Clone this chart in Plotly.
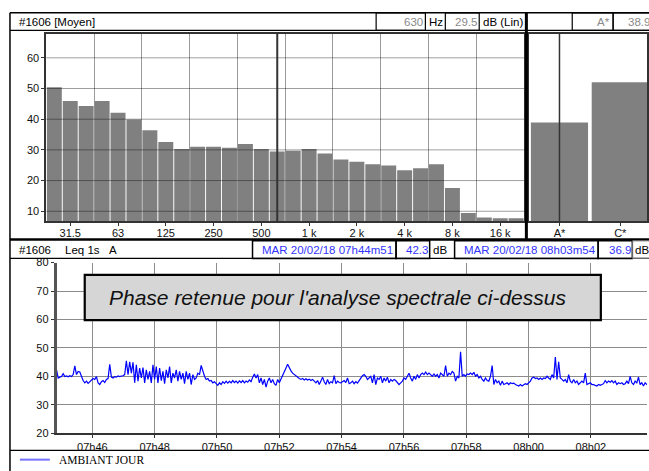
import plotly.graph_objects as go
import pandas as pd

W, H = 649, 471
ARIAL = "Arial, 'Liberation Sans', sans-serif"
SERIF = "'Times New Roman', 'Liberation Serif', serif"

# ---------------- data ----------------
bands = ["25", "31.5", "40", "50", "63", "80", "100", "125", "160", "200",
         "250", "315", "400", "500", "630", "800", "1 k", "1.25 k", "1.6 k", "2 k",
         "2.5 k", "3.15 k", "4 k", "5 k", "6.3 k", "8 k", "10 k", "12.5 k", "16 k", "20 k"]
band_levels = [50.4, 45.9, 44.3, 45.9, 42.1, 39.9, 36.4, 32.6, 30.3, 31.0,
               31.0, 30.7, 31.9, 30.3, 29.5, 29.7, 30.3, 28.8, 26.9, 26.1,
               25.3, 24.9, 23.4, 24.0, 25.3, 17.6, 9.4, 8.0, 7.7, 7.7]
labelled_bands = ["31.5", "63", "125", "250", "500", "1 k", "2 k", "4 k", "8 k", "16 k"]
spec_ticks = [10, 20, 30, 40, 50, 60]

global_labels = ["A*", "C*"]
global_levels = [38.9, 52.0]

cursor_band = "630"
cursor_level = "29.5"
cursor_global = "A*"
cursor_global_level = "38.9"

t_start = "2018-02-20 07:44:51"
t_end = "2018-02-20 08:03:54"
t_view_end = "2018-02-20 08:03:48"
start_label = "MAR 20/02/18 07h44m51"
end_label = "MAR 20/02/18 08h03m54"
start_level = "42.3"
end_level = "36.9"
series_name = "AMBIANT JOUR"

leq_values = [
    42.3, 39.4, 39.7, 39.9, 40.9, 39.9, 40.1, 39.8, 40.2, 39.9, 40.6, 43.7, 40.6, 41.7, 41.5, 39.7,
    38.5, 37.7, 38.3, 37.5, 38.1, 38.9, 39.2, 38.9, 39.9, 37.7, 37.1, 38.1, 38.5, 37.8, 38.9, 39.2,
    44.2, 39.7, 39.4, 39.9, 39.7, 40.1, 39.9, 40.1, 40.2, 40.6, 45.4, 40.6, 45.1, 41.1, 44.9, 37.7,
    44.0, 38.3, 42.9, 39.4, 43.1, 37.7, 42.3, 38.9, 41.7, 37.7, 44.0, 38.9, 43.4, 37.7, 42.9, 38.5,
    41.7, 37.4, 42.3, 39.4, 43.4, 37.7, 41.1, 39.4, 42.3, 38.3, 41.7, 38.9, 41.1, 37.4, 41.7, 38.9,
    41.1, 37.1, 40.6, 38.9, 39.4, 41.1, 40.6, 43.8, 41.7, 40.0, 38.9, 39.2, 38.3, 38.5, 37.7, 38.1,
    37.4, 36.8, 37.7, 37.1, 38.1, 37.5, 38.3, 37.6, 38.2, 37.7, 38.5, 37.8, 38.3, 37.6, 38.4, 37.8,
    38.5, 37.7, 38.3, 37.9, 38.7, 38.1, 39.7, 40.8, 39.4, 40.6, 37.7, 39.4, 37.1, 38.9, 36.2, 38.3,
    39.4, 37.7, 38.9, 37.4, 36.8, 38.9, 37.7, 38.9, 40.0, 41.7, 42.9, 44.2, 42.9, 41.9, 41.1, 40.6,
    40.0, 39.4, 39.2, 38.9, 39.2, 38.7, 39.1, 38.7, 39.0, 38.5, 38.9, 38.3, 37.7, 38.5, 37.1, 38.3,
    39.7, 38.1, 37.1, 38.9, 37.4, 38.1, 37.7, 40.2, 37.4, 38.3, 37.8, 37.7, 38.2, 38.5, 37.8, 39.4,
    37.4,
    37.7, 38.3, 37.4, 38.1, 37.6, 38.5, 39.4, 40.2, 40.6, 40.0, 38.9, 39.4, 40.0, 37.7, 40.6, 37.1,
    39.4, 38.9, 40.0, 37.7, 39.4, 38.3, 39.7, 37.7, 38.9, 38.3, 38.9, 38.5, 37.7, 37.1, 37.7, 38.3,
    39.4, 38.9, 40.0, 41.1, 39.4, 38.3, 40.0, 38.9, 40.6, 39.4, 40.6, 41.1, 40.6, 41.5, 40.6, 41.1,
    40.6, 40.0, 40.8, 40.0, 40.6, 39.4, 41.1, 40.6, 40.0, 43.8, 40.0, 41.1, 40.6, 41.7, 41.1, 38.3,
    40.0, 39.4, 48.6, 40.0, 40.6, 40.0, 40.8, 40.6, 41.1, 40.6, 41.4, 40.0, 40.6, 39.4, 40.0, 38.9,
    38.3, 39.4, 38.5, 38.3, 40.0, 43.8, 37.1, 38.9, 37.7, 38.3, 36.8, 38.3, 37.1, 37.4, 37.7, 37.1,
    37.7, 37.4, 37.6, 37.1, 36.9, 36.6, 37.1, 36.6, 37.0, 37.4, 37.1, 37.7, 38.3, 39.4, 39.7, 39.2,
    39.4, 38.9, 39.4, 38.9, 39.4, 39.2, 40.0, 39.4, 38.9, 40.6, 39.4, 46.8, 38.9, 45.1, 39.4, 38.9,
    38.3, 38.9, 37.7, 40.6, 38.3, 37.7, 38.9, 37.7, 38.3, 37.1, 37.7, 38.3, 37.7, 41.1, 37.1, 37.4,
    37.7, 37.1, 37.1, 36.8, 36.6, 37.1, 36.8, 37.1, 37.4, 38.5, 37.7, 38.3, 37.9, 38.5, 37.7, 38.3,
    37.1, 37.7, 37.4, 37.7, 37.1, 37.4, 38.3, 37.4, 40.0, 37.7, 37.1, 38.3, 37.7, 39.7, 37.1, 37.7,
    36.6, 37.7, 37.1,
    37.0, 36.9,
]

# ---------------- helpers (pixel -> paper) ----------------
def PX(x):
    return x / W


def PY(y):
    return 1 - y / H


shapes = []
annotations = []


def line(x0, y0, x1, y1, color="#000", width=1.0, layer="above"):
    shapes.append(dict(type="line", xref="paper", yref="paper",
                       x0=PX(x0), y0=PY(y0), x1=PX(x1), y1=PY(y1),
                       line=dict(color=color, width=width), layer=layer))


def rect(x0, y0, x1, y1, color="#000", width=1.0, fill="rgba(0,0,0,0)", layer="above"):
    shapes.append(dict(type="rect", xref="paper", yref="paper",
                       x0=PX(x0), y0=PY(y0), x1=PX(x1), y1=PY(y1),
                       line=dict(color=color, width=width), fillcolor=fill, layer=layer))


def text(s, x, y, anchor="left", color="#000", size=11.5, family=ARIAL, italic=False):
    annotations.append(dict(text=s, xref="paper", yref="paper", x=PX(x), y=PY(y),
                            xanchor=anchor, yanchor="middle", showarrow=False,
                            font=dict(color=color, size=size, family=family,
                                      style="italic" if italic else "normal")))


# ---------------- traces ----------------
fig = go.Figure()
band_pos = list(range(len(bands)))
fig.add_trace(go.Bar(x=band_pos, y=band_levels, marker=dict(color="#808080", line=dict(width=0)),
                     xaxis="x", yaxis="y", showlegend=False))
fig.add_trace(go.Bar(x=list(range(len(global_labels))), y=global_levels,
                     marker=dict(color="#808080", line=dict(width=0)),
                     xaxis="x2", yaxis="y2", showlegend=False))
times = pd.date_range(t_start, t_end, periods=len(leq_values))
fig.add_trace(go.Scatter(x=times, y=leq_values, mode="lines", name=series_name,
                         line=dict(color="#0000ff", width=1.2),
                         xaxis="x3", yaxis="y3", showlegend=False))

# ---------------- axes ----------------
spec_dom_y = [PY(220.7), PY(28.3)]
spec_range = [6.8, 67.9]
tickfont = dict(family=ARIAL, size=11, color="#111")

fig.update_layout(
    xaxis=dict(domain=[PX(46.5), PX(525.7)], range=[-0.5, len(bands) - 0.5],
               tickvals=[bands.index(b) for b in labelled_bands], ticktext=labelled_bands,
               ticks="outside", ticklen=3, tickcolor="#333", tickfont=tickfont,
               ticklabelstandoff=-2,
               showgrid=False, zeroline=False, showline=True, linecolor="#333",
               linewidth=1.5, mirror=True, fixedrange=True, anchor="y",
               minor=dict(tickmode="linear", tick0=2.5, dtick=3, showgrid=True,
                          gridcolor="#9a9a9a", gridwidth=1, ticks="")),
    yaxis=dict(domain=spec_dom_y, range=spec_range, tickvals=spec_ticks,
               ticks="outside", ticklen=3, tickcolor="#333", tickfont=tickfont,
               showgrid=False, zeroline=False, showline=True, linecolor="#333",
               linewidth=2, mirror=True, anchor="x"),
    xaxis2=dict(domain=[PX(530.7), 1.0], range=[-0.5, -0.5 + (649 - 530.7) / 61.0],
                tickvals=list(range(len(global_labels))), ticktext=global_labels,
                ticks="outside", ticklen=3, tickcolor="#333", tickfont=tickfont,
                ticklabelstandoff=-2,
                showgrid=False, zeroline=False, showline=True, linecolor="#333",
                linewidth=1.5, mirror=True, anchor="y2"),
    yaxis2=dict(domain=spec_dom_y, range=spec_range, showticklabels=False, ticks="",
                showgrid=False, zeroline=False, showline=True, linecolor="#333",
                linewidth=1.5, mirror=True, anchor="x2"),
    xaxis3=dict(domain=[PX(56.7), 1.0], type="date", range=[t_start, t_view_end],
                tick0="2018-02-20 07:46:00", dtick=120000, tickformat="%Hh%M",
                ticks="outside", ticklen=3, tickcolor="#333", tickfont=tickfont,
                showgrid=True, gridcolor="#8c8c8c", gridwidth=1, zeroline=False,
                showline=True, linecolor="#333", linewidth=1.5, anchor="y3"),
    yaxis3=dict(domain=[PY(438.3), PY(263.3)], range=[20, 80], dtick=10,
                ticks="outside", ticklen=3, tickcolor="#333", tickfont=tickfont,
                showgrid=True, gridcolor="#8c8c8c", gridwidth=1, zeroline=False,
                showline=True, linecolor="#555", linewidth=2.5, anchor="x3"),
    bargap=0.06,
)

# horizontal spectrum gridlines drawn over the bars
for v in spec_ticks:
    shapes.append(dict(type="line", xref="x domain", yref="y", x0=0, x1=1, y0=v, y1=v,
                       line=dict(color="rgba(0,0,0,0.38)", width=1), layer="above"))
# cursor lines
shapes.append(dict(type="line", xref="x", yref="y domain", x0=bands.index(cursor_band),
                   x1=bands.index(cursor_band), y0=0, y1=1,
                   line=dict(color="#333", width=2), layer="above"))
shapes.append(dict(type="line", xref="x2", yref="y2 domain", x0=global_labels.index(cursor_global),
                   x1=global_labels.index(cursor_global), y0=0, y1=1,
                   line=dict(color="#333", width=1.5), layer="above"))

# ---------------- frame ----------------
line(10, 7, 660, 7, width=1.5)
line(10, 7, 10, 480, width=1.5)
line(10, 25, 660, 25, width=1.2)
line(528, 7, 528, 239, width=3)
line(10, 239.5, 660, 239.5, width=2.5)
line(10, 259, 660, 259, width=1.2)
line(10, 456, 660, 456, width=1.2)

# top header
text("#1606 [Moyen]", 17, 16.5)
rect(377.3, 7, 426.7, 25, width=1.2)
rect(446.7, 7, 480.7, 25, width=1.2)
text(cursor_band, 426.5, 16.5, anchor="right", color="#8a8a8a")
text("Hz", 428, 16.5)
text(cursor_level, 480.7, 16.5, anchor="right", color="#8a8a8a")
text("dB (Lin)", 482, 16.5)
rect(574, 7, 615, 25, width=1.2)
rect(615, 7, 665, 25, width=1.2)
text(cursor_global, 614, 16.5, anchor="right", color="#8a8a8a")
text(cursor_global_level, 628, 16.5, color="#8a8a8a")

# second header
BLUE = "#3333ff"
text("#1606", 17, 250)
text("Leq 1s", 63, 250)
text("A", 107, 250)
rect(253.3, 241, 397.3, 259, width=1.5)
rect(397.3, 241, 431, 259, width=1.5)
rect(456, 241, 600, 259, width=1.5)
rect(600, 241, 634.3, 259, width=1.5)
rect(634.3, 241, 665, 259, width=1, color="#777")
text(start_label, 396.5, 250, anchor="right", color=BLUE)
text(start_level, 431.5, 250, anchor="right", color=BLUE)
text("dB", 432, 250)
text(end_label, 599.5, 250, anchor="right", color=BLUE)
text(end_level, 634.8, 250, anchor="right", color=BLUE)
text("dB", 635, 250)

# overlay note box
rect(85, 276, 602.7, 322.3, width=2.2, fill="#d6d6d6")
text("Phase retenue pour l'analyse spectrale ci-dessus", 339, 299.5, anchor="center",
     size=21, italic=True, color="#111")

# legend
line(20, 465.5, 50, 465.5, color="#7373ff", width=2)
text(series_name, 57.5, 465.5, size=11.5, family=SERIF)

fig.update_layout(
    width=W, height=H, autosize=False,
    margin=dict(l=0, r=0, t=0, b=0, pad=0),
    paper_bgcolor="white", plot_bgcolor="white",
    shapes=shapes, annotations=annotations, showlegend=False,
)

fig.write_html("out.html", config={"displayModeBar": False})
